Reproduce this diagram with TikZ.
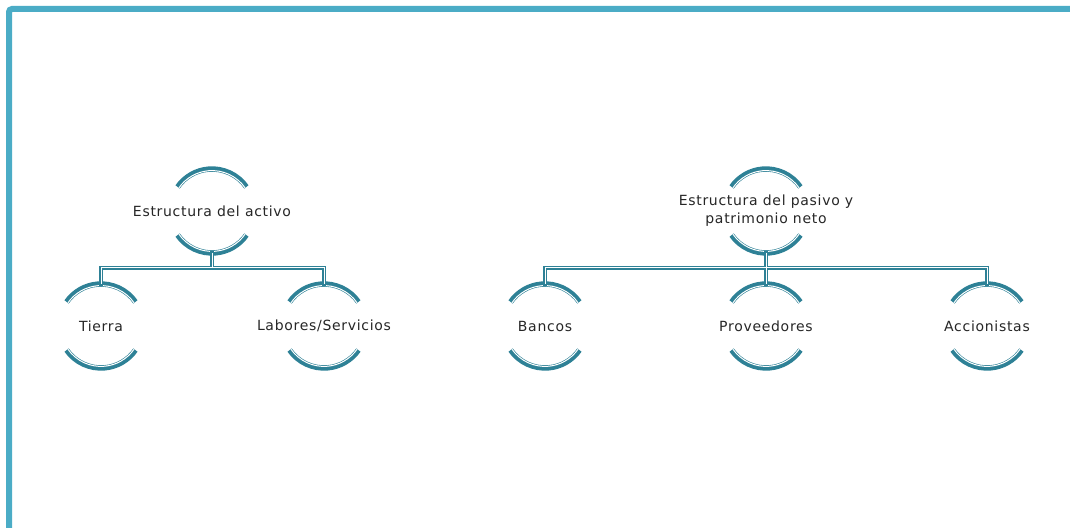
\documentclass[tikz,border=0pt]{standalone}
\usepackage{fontspec}
\setmainfont[LetterSpace=5]{DejaVu Sans}
\begin{document}
\begin{tikzpicture}[x=1pt,y=1pt,
  hub/.style={circle,minimum size=84pt,inner sep=0pt,draw=none,align=center,
    font=\fontsize{14}{18}\selectfont,text=black!85},
  edgeouter/.style={draw=arcteal,line width=4.6pt,line cap=rect},
  edgeinner/.style={draw=white,line width=1pt},
]
\definecolor{arcteal}{HTML}{2E8196}
\definecolor{frameblue}{HTML}{4BACC6}
\useasboundingbox (0,0) rectangle (1070,527);

% page frame: top and left sides
\draw[frameblue,line width=6pt,rounded corners=3pt] (9,-20) -- (9,518) -- (1090,518);

% hub nodes
\node[hub] (act) at (212,316) {Estructura del activo};
\node[hub] (pas) at (766,316) {Estructura del pasivo y\\patrimonio neto};
\node[hub] (tie) at (101,201) {Tierra};
\node[hub] (lab) at (324,201) {Labores/Servicios};
\node[hub] (ban) at (545,201) {Bancos};
\node[hub] (pro) at (766,201) {Proveedores};
\node[hub] (acc) at (987,201) {Accionistas};

% double arcs above and below each hub
\foreach \n in {act,pas,tie,lab,ban,pro,acc}{
  \draw[arcteal,line width=5.4pt] ([shift={(35:42)}]\n.center) arc (35:145:42);
  \draw[white,line width=1pt] ([shift={(35:40.4)}]\n.center) arc (35:145:40.4);
  \draw[arcteal,line width=5.4pt] ([shift={(215:42)}]\n.center) arc (215:325:42);
  \draw[white,line width=1pt] ([shift={(215:40.4)}]\n.center) arc (215:325:40.4);
}

% tree connectors: teal band first, then the white inner line
\coordinate (busA) at (0,259);
\foreach \s in {edgeouter,edgeinner}{
  \foreach \p/\c in {act/tie,act/lab,pas/ban,pas/pro,pas/acc}{
    \draw[\s] ([yshift=-42pt]\p.center) -- (\p.center |- busA)
      -| ([yshift=42pt]\c.center);
  }
}
\end{tikzpicture}
\end{document}
